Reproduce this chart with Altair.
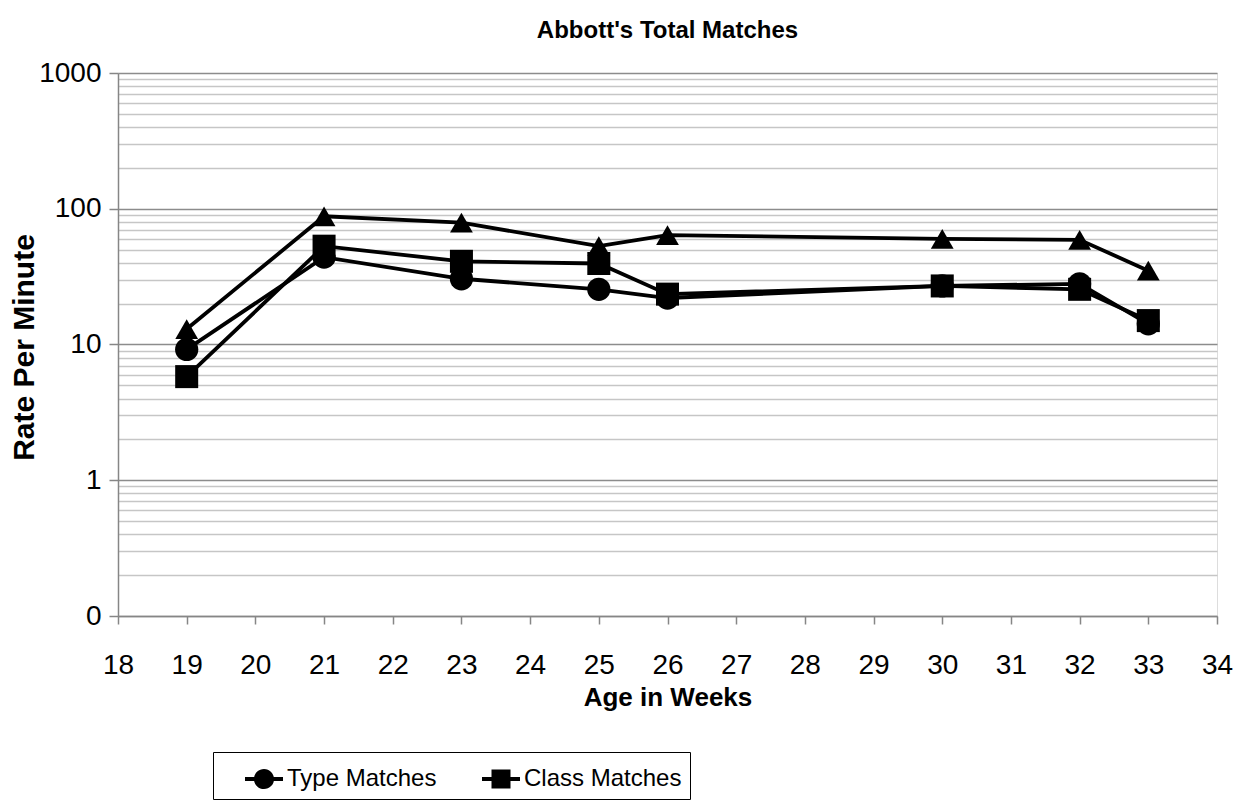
import altair as alt
import pandas as pd

# Weeks at which matches were counted
weeks = [19, 21, 23, 25, 26, 30, 32, 33]

# Rates per minute for each series
type_matches = [9.2, 44, 30.5, 25.5, 22, 27, 28, 14.2]
class_matches = [5.8, 53, 41, 39.5, 23.5, 27, 25.5, 15]
total_matches = [13, 88, 79, 53, 64, 60, 59, 35]

series_names = ["Type Matches", "Class Matches", "Total Matches"]

# Axis ticks
x_ticks = list(range(18, 35))
y_major = [0.1, 1, 10, 100, 1000]
y_minor = [m * d for d in y_major[:-1] for m in range(2, 10)]

rows = []
for name, vals in zip(series_names, [type_matches, class_matches, total_matches]):
    for w, v in zip(weeks, vals):
        rows.append({"week": w, "rate": v, "series": name})
df = pd.DataFrame(rows)

FONT = "Liberation Sans"
AXIS_GRAY = "#868686"

major_test = " || ".join(f"datum.value == {v}" for v in y_major)

x_scale = alt.Scale(domain=[18, 34], nice=False, zero=False)
y_scale = alt.Scale(type="log", domain=[0.1, 1000], nice=False)

x_axis = alt.Axis(
    values=x_ticks,
    format="d",
    labelOverlap=False,
    labelFlush=False,
    grid=False,
    domainColor=AXIS_GRAY,
    domainWidth=1.5,
    tickColor=AXIS_GRAY,
    tickWidth=1.5,
    tickSize=8,
    labelFont=FONT,
    labelFontSize=28,
    labelColor="black",
    labelPadding=27,
    title="Age in Weeks",
    titleFont=FONT,
    titleFontSize=26,
    titleFontWeight="bold",
    titleColor="black",
    titleX=549.5,
    titleY=81,
    titleBaseline="middle",
    titleAlign="center",
)

y_axis = alt.Axis(
    values=sorted(y_major + y_minor),
    labelExpr=f"({major_test}) ? (datum.value < 1 ? '0' : format(datum.value, 'd')) : ''",
    labelOverlap=False,
    labelFlush=False,
    grid=True,
    gridColor={"condition": {"test": major_test, "value": "#8c8c8c"}, "value": "#c6c6c6"},
    gridWidth=1.5,
    domainColor=AXIS_GRAY,
    domainWidth=1.5,
    tickColor={"condition": {"test": major_test, "value": AXIS_GRAY}, "value": "transparent"},
    tickWidth=1.5,
    tickSize=9,
    labelFont=FONT,
    labelFontSize=28,
    labelColor="black",
    labelPadding=8,
    title="Rate Per Minute",
    titleFont=FONT,
    titleFontSize=30,
    titleFontWeight="bold",
    titleColor="black",
    titleX=-94,
    titleY=274,
    titleAngle=270,
    titleBaseline="middle",
    titleAlign="center",
)

base = alt.Chart(df)

lines = base.mark_line(color="black", strokeWidth=3.8).encode(
    x=alt.X("week:Q", scale=x_scale, axis=x_axis),
    y=alt.Y("rate:Q", scale=y_scale, axis=y_axis),
    detail="series:N",
)

points = base.mark_point(filled=True, color="black", opacity=1).encode(
    x="week:Q",
    y="rate:Q",
    shape=alt.Shape(
        "series:N",
        scale=alt.Scale(domain=series_names, range=["circle", "square", "triangle-up"]),
        legend=None,
    ),
    size=alt.Size(
        "series:N",
        scale=alt.Scale(domain=series_names, range=[540, 520, 620]),
        legend=None,
    ),
)

# Legend keys: a short bar with the series marker in its middle (all filled)
circle_key = (
    "M-1,-0.1L1,-0.1L1,0.1L-1,0.1Z"
    "M0.53,0A0.53,0.53,0,1,1,-0.53,0A0.53,0.53,0,1,1,0.53,0Z"
)
square_key = (
    "M-1,-0.1L1,-0.1L1,0.1L-1,0.1Z"
    "M-0.5,-0.5L0.5,-0.5L0.5,0.5L-0.5,0.5Z"
)
KEY_SIZE = 1444
KEY_SHIFT = 24

key = (
    base.transform_filter(alt.FieldOneOfPredicate(field="series", oneOf=series_names[:2]))
    .mark_point(filled=True, fill="black", opacity=0, size=KEY_SIZE)
    .encode(
        x="week:Q",
        y="rate:Q",
        shape=alt.Shape(
            "series:N",
            scale=alt.Scale(domain=series_names[:2], range=[circle_key, square_key]),
            legend=alt.Legend(
                title=None,
                orient="none",
                legendX=95,
                legendY=679,
                direction="horizontal",
                strokeColor="black",
                fillColor="white",
                padding=8,
                labelFont=FONT,
                labelFontSize=24,
                labelColor="black",
                labelLimit=0,
                # trailing no-break spaces keep some room before the right border
                labelExpr="datum.label == 'Class Matches' ? datum.label + '\u00a0\u00a0\u00a0\u00a0' : datum.label",
                labelOffset=KEY_SHIFT - 20,
                symbolOffset=KEY_SHIFT,
                columnPadding=21,
                symbolSize=KEY_SIZE,
                symbolStrokeWidth=0,
                symbolFillColor="black",
                symbolOpacity=1,
            ),
        ),
    )
)

chart = (
    alt.layer(lines, points, key)
    .resolve_scale(shape="independent")
    .properties(
        width=1099,
        height=543,
        autosize="none",
        padding={"left": 118, "top": 73, "right": 30, "bottom": 193},
        title=alt.Title(
            "Abbott's Total Matches",
            font=FONT,
            fontSize=24,
            fontWeight="bold",
            color="black",
            anchor="middle",
            offset=16,
        ),
    )
    .configure_view(stroke=None)
    .configure(background="white")
)

chart.save("out.html", embed_options={"renderer": "svg", "actions": False})
